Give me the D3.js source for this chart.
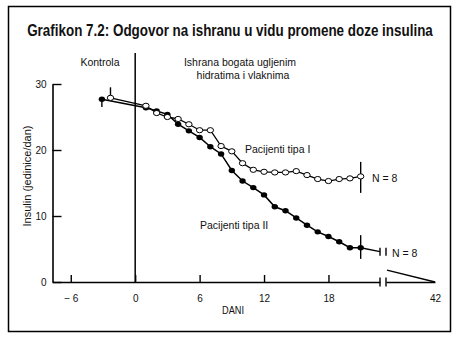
<!DOCTYPE html>
<html>
<head>
<meta charset="utf-8">
<script src="https://cdn.jsdelivr.net/npm/d3@7"></script>
<style>
  html, body { margin: 0; padding: 0; background: #fff; }
  svg { display: block; }
  text { font-family: "Liberation Sans", Arial, sans-serif; fill: #111; }
</style>
</head>
<body>
<svg id="chart" width="458" height="339"></svg>
<script>
// Days of the diet period (after day 0)
const days = [1, 2, 3, 4, 5, 6, 7, 8, 9, 10, 11, 12, 13, 14, 15, 16, 17, 18, 19, 20, 21];
// Insulin dose (units/day), type I patients
const typeI = [26.7, 25.6, 25.0, 24.7, 23.9, 23.0, 23.0, 20.6, 19.8, 18.0, 17.0, 16.7, 16.6, 16.6, 16.8, 16.2, 15.6, 15.3, 15.6, 15.7, 16.0];
// Insulin dose (units/day), type II patients
const typeII = [26.4, 25.9, 25.4, 23.9, 22.9, 21.9, 20.5, 19.4, 16.9, 15.3, 14.3, 13.2, 11.4, 10.8, 9.7, 8.6, 7.6, 6.9, 6.1, 5.2, 5.2];
// Control-period measurements
const controlI = { day: -2.3, value: 27.9 };
const controlII = { day: -3.1, value: 27.7 };
// Error bars (low / high)
const errorsI = [{ day: -2.3, lo: 27.9, hi: 29.5 }, { day: 21, lo: 13.5, hi: 18.2 }];
const errorsII = [{ day: -3.1, lo: 26.5, hi: 27.7 }, { day: 21, lo: 3.5, hi: 7.1 }];
// Type II continuation up to the axis break
const typeIIEnd = [{ day: 21, value: 5.2 }, { day: 22.8, value: 4.6 }];
// Long-term segment after the axis break (to day 42)
const tail = [{ day: 23, value: 1.8 }, { day: 42, value: 0 }];
// Tick labels
const xTicks = [-6, 0, 6, 12, 18];
const xTailTicks = [42];
const yTicks = [0, 10, 20, 30];

const svg = d3.select("#chart");

// Frame
svg.append("rect").attr("x", 8.5).attr("y", 6.5).attr("width", 442).attr("height", 325)
  .attr("fill", "none").attr("stroke", "#000").attr("stroke-width", 1.5);

// Title: bold, condensed horizontally so it spans the frame width
const title = svg.append("text").attr("text-anchor", "middle")
  .style("font-family", "'Liberation Sans Narrow', 'Arial Narrow', 'Liberation Sans', sans-serif")
  .style("font-weight", "bold").style("font-size", "16.5px")
  .attr("transform", "translate(230,36)")
  .text("Grafikon 7.2: Odgovor na ishranu u vidu promene doze insulina");
const titleWidth = title.node().getComputedTextLength();
if (titleWidth > 0) title.attr("transform", `translate(230,36) scale(${(406 / titleWidth).toFixed(4)},1)`);

// Scales: main segment and the compressed segment after the break
const x = d3.scaleLinear().domain([-7.7, 22.8]).range([52.5, 380]);
const xTail = d3.scaleLinear().domain([22.6, 42]).range([386, 435]);
const y = d3.scaleLinear().domain([0, 30]).range([282, 84]);

// Y axis (ticks pointing inward)
const yAxis = svg.append("g").attr("transform", `translate(${x.range()[0]},0)`)
  .call(d3.axisLeft(y).tickValues(yTicks).tickSizeInner(-9).tickSizeOuter(0).tickPadding(6));
yAxis.select(".domain").attr("stroke-width", 1.6);
yAxis.selectAll(".tick line").attr("stroke-width", 1.4);
yAxis.selectAll("text").style("font-size", "10px").attr("fill", "#111")
  .style("font-family", "'Liberation Sans', Arial, sans-serif");

// X axis, main segment
const xAxis = svg.append("g").attr("transform", `translate(0,${y(0)})`)
  .call(d3.axisBottom(x).tickValues(xTicks).tickSizeInner(-7).tickSizeOuter(0).tickPadding(13)
    .tickFormat(d => d < 0 ? "\u2212 " + Math.abs(d) : d));
// X axis, segment after the break
const xAxisTail = svg.append("g").attr("transform", `translate(0,${y(0)})`)
  .call(d3.axisBottom(xTail).tickValues(xTailTicks).tickSize(0).tickPadding(13));
[xAxis, xAxisTail].forEach(g => {
  g.select(".domain").attr("stroke-width", 1.6);
  g.selectAll(".tick line").attr("stroke-width", 1.4);
  g.selectAll("text").style("font-size", "10px").attr("fill", "#111")
    .style("font-family", "'Liberation Sans', Arial, sans-serif");
});

// Break marks on the x axis
[x.range()[1], xTail.range()[0]].forEach(px => {
  svg.append("line").attr("x1", px).attr("x2", px).attr("y1", y(0) - 4.5).attr("y2", y(0) + 4.5)
    .attr("stroke", "#000").attr("stroke-width", 1.4);
});

// Axis titles
svg.append("text").attr("x", 233).attr("y", 314).attr("text-anchor", "middle")
  .style("font-size", "11px").attr("textLength", 22).attr("lengthAdjust", "spacingAndGlyphs").text("DANI");
svg.append("text").attr("transform", "translate(31,176) rotate(-90)").attr("text-anchor", "middle")
  .style("font-size", "11px").text("Insulin (jedinice/dan)");

// Start of diet (day 0)
svg.append("line").attr("x1", x(0)).attr("x2", x(0)).attr("y1", 53).attr("y2", y(0))
  .attr("stroke", "#000").attr("stroke-width", 1.5);

// Period labels
svg.append("text").attr("x", 100).attr("y", 66).attr("text-anchor", "middle")
  .style("font-size", "10.5px").text("Kontrola");
svg.append("text").attr("x", 240).attr("y", 66).attr("text-anchor", "middle")
  .style("font-size", "10.5px").text("Ishrana bogata ugljenim");
svg.append("text").attr("x", 243).attr("y", 79).attr("text-anchor", "middle")
  .style("font-size", "10.5px").text("hidratima i vlaknima");

// Series
const line = d3.line().x(d => x(d.day)).y(d => y(d.value));
const seriesI = [controlI].concat(days.map((d, i) => ({ day: d, value: typeI[i] })));
const seriesII = [controlII].concat(days.map((d, i) => ({ day: d, value: typeII[i] })));

// Error bars
function errorBars(list) {
  svg.append("g").selectAll("line").data(list).join("line")
    .attr("x1", d => x(d.day)).attr("x2", d => x(d.day))
    .attr("y1", d => y(d.lo)).attr("y2", d => y(d.hi))
    .attr("stroke", "#000").attr("stroke-width", 1.4);
}
errorBars(errorsI);
errorBars(errorsII);

svg.append("path").datum(seriesII).attr("d", line)
  .attr("fill", "none").attr("stroke", "#000").attr("stroke-width", 1.5);
svg.append("path").datum(typeIIEnd).attr("d", line)
  .attr("fill", "none").attr("stroke", "#000").attr("stroke-width", 1.5);
svg.append("path").datum(seriesI).attr("d", line)
  .attr("fill", "none").attr("stroke", "#000").attr("stroke-width", 1.3);

// Break marks on the type II continuation
[x.range()[1], xTail.range()[0]].forEach(px => {
  svg.append("line").attr("x1", px).attr("x2", px)
    .attr("y1", y(typeIIEnd[1].value) - 4).attr("y2", y(typeIIEnd[1].value) + 4)
    .attr("stroke", "#000").attr("stroke-width", 1.4);
});

// Long-term segment after the break
svg.append("path").datum(tail)
  .attr("d", d3.line().x(d => xTail(d.day)).y(d => y(d.value)))
  .attr("fill", "none").attr("stroke", "#000").attr("stroke-width", 1.4);

// Markers
svg.append("g").selectAll("ellipse").data(seriesII).join("ellipse")
  .attr("cx", d => x(d.day)).attr("cy", d => y(d.value))
  .attr("rx", 3.2).attr("ry", 2.7).attr("fill", "#000");
svg.append("g").selectAll("ellipse").data(seriesI).join("ellipse")
  .attr("cx", d => x(d.day)).attr("cy", d => y(d.value))
  .attr("rx", 3.2).attr("ry", 2.6).attr("fill", "#fff").attr("stroke", "#000").attr("stroke-width", 1);

// Series labels
svg.append("text").attr("x", 245).attr("y", 153).style("font-size", "10.5px").text("Pacijenti tipa I");
svg.append("text").attr("x", 372).attr("y", 182).style("font-size", "10.5px").text("N = 8");
svg.append("text").attr("x", 200).attr("y", 229).style("font-size", "10.5px").text("Pacijenti tipa II");
svg.append("text").attr("x", 392).attr("y", 257).style("font-size", "10.5px").text("N = 8");
</script>
</body>
</html>
